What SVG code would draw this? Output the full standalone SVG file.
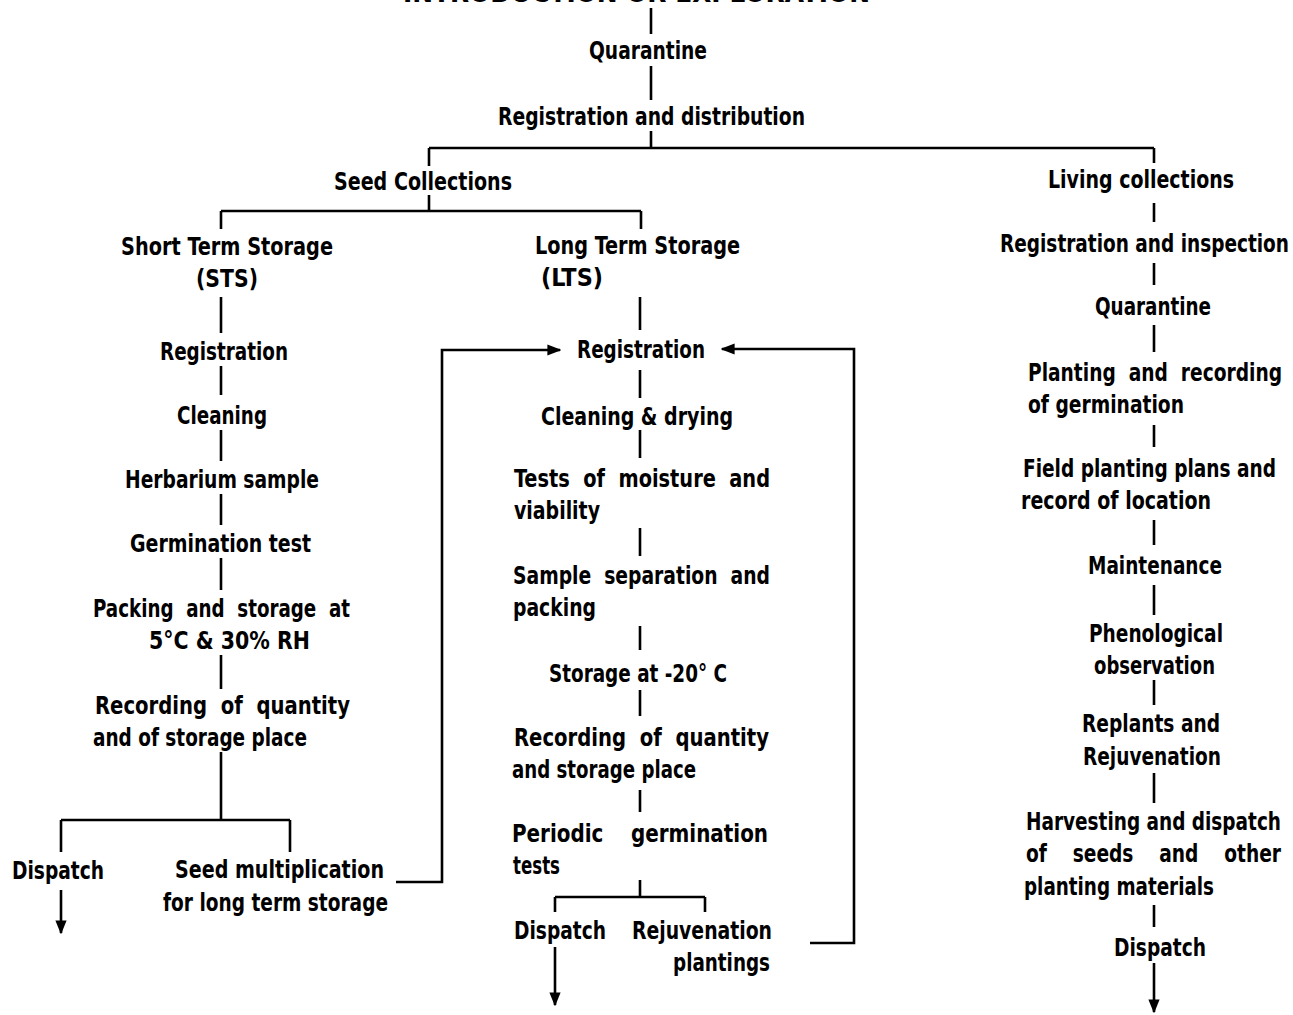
<svg xmlns="http://www.w3.org/2000/svg" width="1293" height="1015" viewBox="0 0 1293 1015">
<style>
text{font-family:"Liberation Sans Narrow","DejaVu Sans Condensed","Liberation Sans",sans-serif;font-weight:bold;font-size:25px;fill:#000;white-space:pre}
.c{stroke:#000;stroke-width:2.6;fill:none}
</style>
<defs>
<marker id="ahd" viewBox="0 0 10 10" refX="9" refY="5" markerWidth="14" markerHeight="14" orient="auto" markerUnits="userSpaceOnUse">
<path d="M0,1 L10,5 L0,9 Z" fill="#000"/>
</marker>
</defs>
<rect width="1293" height="1015" fill="#fff"/>
<g id="connectors" class="c">
<path d="M651 8V34M651 66V100M651 131V148M429 148H1154M429 148V166M1154 148V163"/>
<path d="M429 195V211M221 211H641M221 211V229M641 211V229"/>
<path d="M221 297V333M221 366V395M221 430V461M221 494V525M221 558V590M221 655V689M221 752V820M61 820H290M61 820V852M290 820V852"/>
<path d="M61 890V933" marker-end="url(#ahd)"/>
<path d="M396 882H442V350H560" marker-end="url(#ahd)"/>
<path d="M640 297V330M640 370V398M640 430V458M640 528V556M640 626V650M640 690V716M640 790V812M640 880V897M555 897H705M555 897V912M705 897V912"/>
<path d="M555 947V1005" marker-end="url(#ahd)"/>
<path d="M810 943H854V349H722" marker-end="url(#ahd)"/>
<path d="M1154 203V222M1154 263V285M1154 325V352M1154 425V447M1154 520V545M1154 585V615M1154 680V705M1154 773V803M1154 905V927"/>
<path d="M1154 963V1012" marker-end="url(#ahd)"/>
</g>
<g id="title"><text x="403" y="2" textLength="467" lengthAdjust="spacingAndGlyphs">INTRODUCTION OR EXPLORATION</text></g>
<g id="n-quarantine"><text x="589" y="59" textLength="118" lengthAdjust="spacingAndGlyphs">Quarantine</text></g>
<g id="n-regdist"><text x="498" y="125" textLength="307" lengthAdjust="spacingAndGlyphs">Registration and distribution</text></g>
<g id="n-seed"><text x="334" y="190" textLength="178" lengthAdjust="spacingAndGlyphs">Seed Collections</text></g>
<g id="n-living"><text x="1048" y="188" textLength="186" lengthAdjust="spacingAndGlyphs">Living collections</text></g>
<g id="n-sts"><text x="121" y="255" textLength="212" lengthAdjust="spacingAndGlyphs">Short Term Storage</text><text x="196" y="287" textLength="62" lengthAdjust="spacingAndGlyphs">(STS)</text></g>
<g id="n-lts"><text x="535" y="254" textLength="205" lengthAdjust="spacingAndGlyphs">Long Term Storage</text><text x="541" y="286" textLength="62" lengthAdjust="spacingAndGlyphs">(LTS)</text></g>
<g id="n-reginsp"><text x="1000" y="252" textLength="289" lengthAdjust="spacingAndGlyphs">Registration and inspection</text></g>
<g id="n-sts-reg"><text x="160" y="360" textLength="128" lengthAdjust="spacingAndGlyphs">Registration</text></g>
<g id="n-lts-reg"><text x="577" y="358" textLength="128" lengthAdjust="spacingAndGlyphs">Registration</text></g>
<g id="n-r-quar"><text x="1095" y="315" textLength="116" lengthAdjust="spacingAndGlyphs">Quarantine</text></g>
<g id="n-planting"><text x="1028" y="381" textLength="254" lengthAdjust="spacingAndGlyphs">Planting  and  recording</text><text x="1028" y="413" textLength="156" lengthAdjust="spacingAndGlyphs">of germination</text></g>
<g id="n-sts-clean"><text x="177" y="424" textLength="90" lengthAdjust="spacingAndGlyphs">Cleaning</text></g>
<g id="n-lts-clean"><text x="541" y="425" textLength="192" lengthAdjust="spacingAndGlyphs">Cleaning &amp; drying</text></g>
<g id="n-herb"><text x="125" y="488" textLength="194" lengthAdjust="spacingAndGlyphs">Herbarium sample</text></g>
<g id="n-tests"><text x="514" y="487" textLength="256" lengthAdjust="spacingAndGlyphs">Tests  of  moisture  and</text><text x="514" y="519" textLength="86" lengthAdjust="spacingAndGlyphs">viability</text></g>
<g id="n-field"><text x="1023" y="477" textLength="253" lengthAdjust="spacingAndGlyphs">Field planting plans and</text><text x="1021" y="509" textLength="190" lengthAdjust="spacingAndGlyphs">record of location</text></g>
<g id="n-germ"><text x="130" y="552" textLength="181" lengthAdjust="spacingAndGlyphs">Germination test</text></g>
<g id="n-maint"><text x="1088" y="574" textLength="134" lengthAdjust="spacingAndGlyphs">Maintenance</text></g>
<g id="n-sample"><text x="513" y="584" textLength="257" lengthAdjust="spacingAndGlyphs">Sample  separation  and</text><text x="513" y="616" textLength="83" lengthAdjust="spacingAndGlyphs">packing</text></g>
<g id="n-packing"><text x="93" y="617" textLength="257" lengthAdjust="spacingAndGlyphs">Packing  and  storage  at</text><text x="149" y="649" textLength="161" lengthAdjust="spacingAndGlyphs">5°C &amp; 30% RH</text></g>
<g id="n-pheno"><text x="1089" y="642" textLength="134" lengthAdjust="spacingAndGlyphs">Phenological</text><text x="1094" y="674" textLength="121" lengthAdjust="spacingAndGlyphs">observation</text></g>
<g id="n-storage20"><text x="549" y="682" textLength="178" lengthAdjust="spacingAndGlyphs">Storage at -20° C</text></g>
<g id="n-sts-rec"><text x="95" y="714" textLength="255" lengthAdjust="spacingAndGlyphs">Recording  of  quantity</text><text x="93" y="746" textLength="214" lengthAdjust="spacingAndGlyphs">and of storage place</text></g>
<g id="n-replants"><text x="1082" y="732" textLength="138" lengthAdjust="spacingAndGlyphs">Replants and</text><text x="1083" y="765" textLength="138" lengthAdjust="spacingAndGlyphs">Rejuvenation</text></g>
<g id="n-lts-rec"><text x="514" y="746" textLength="255" lengthAdjust="spacingAndGlyphs">Recording  of  quantity</text><text x="512" y="778" textLength="184" lengthAdjust="spacingAndGlyphs">and storage place</text></g>
<g id="n-harvest"><text x="1026" y="830" textLength="255" lengthAdjust="spacingAndGlyphs">Harvesting and dispatch</text><text x="1026" y="862" textLength="255" lengthAdjust="spacingAndGlyphs">of    seeds    and    other</text><text x="1024" y="895" textLength="190" lengthAdjust="spacingAndGlyphs">planting materials</text></g>
<g id="n-periodic"><text x="512" y="842" textLength="256" lengthAdjust="spacingAndGlyphs">Periodic    germination</text><text x="513" y="874" textLength="47" lengthAdjust="spacingAndGlyphs">tests</text></g>
<g id="n-sts-dispatch"><text x="12" y="879" textLength="92" lengthAdjust="spacingAndGlyphs">Dispatch</text></g>
<g id="n-seedmult"><text x="175" y="878" textLength="209" lengthAdjust="spacingAndGlyphs">Seed multiplication</text><text x="163" y="911" textLength="225" lengthAdjust="spacingAndGlyphs">for long term storage</text></g>
<g id="n-lts-dispatch"><text x="514" y="939" textLength="92" lengthAdjust="spacingAndGlyphs">Dispatch</text></g>
<g id="n-rejuv"><text x="632" y="939" textLength="140" lengthAdjust="spacingAndGlyphs">Rejuvenation</text><text x="673" y="971" textLength="97" lengthAdjust="spacingAndGlyphs">plantings</text></g>
<g id="n-r-dispatch"><text x="1114" y="956" textLength="92" lengthAdjust="spacingAndGlyphs">Dispatch</text></g>
</svg>
